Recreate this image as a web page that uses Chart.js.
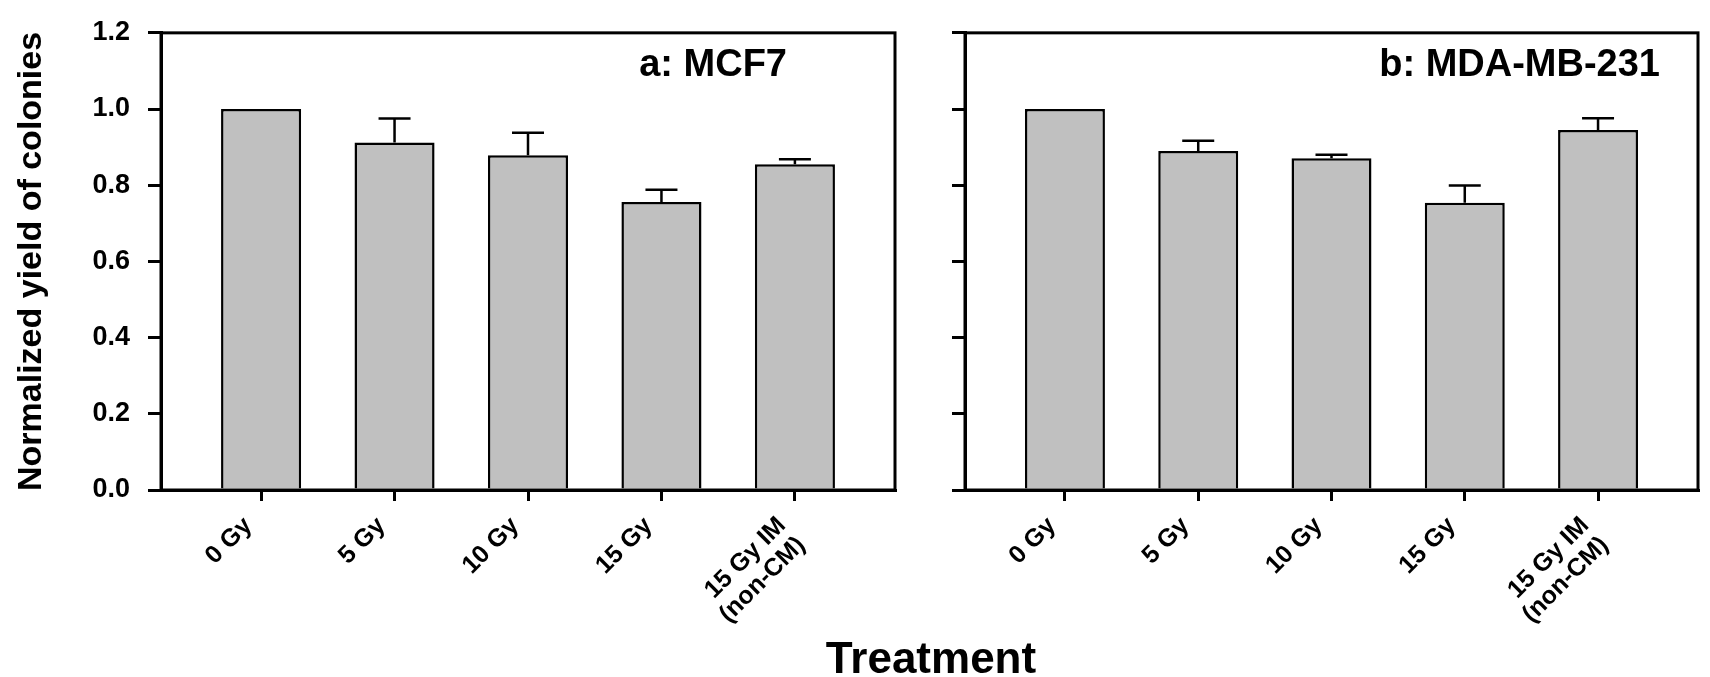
<!DOCTYPE html>
<html>
<head>
<meta charset="utf-8">
<script src="https://cdn.jsdelivr.net/npm/chart.js@4.4.1/dist/chart.umd.min.js"></script>
<style>
  body { margin: 0; background: #fff; overflow: hidden; }
  #wrap { position: relative; width: 1710px; height: 677px; }
  #wrap canvas { position: absolute; top: 0; }
  #xTitle {
    position: absolute; left: 731px; width: 400px; top: 633px;
    text-align: center; line-height: 1;
    font: bold 44px "Liberation Sans", Arial, sans-serif; color: #000;
  }
</style>
</head>
<body>
<div id="wrap">
  <canvas id="chartA" width="925" height="677" style="left:0"></canvas>
  <canvas id="chartB" width="785" height="677" style="left:925px"></canvas>
  <div id="xTitle">Treatment</div>
</div>
<script>
// treatments on the x axis
const treatments = ["0 Gy", "5 Gy", "10 Gy", "15 Gy", ["15 Gy IM", "(non-CM)"]];
const yTicks = [0, 0.2, 0.4, 0.6, 0.8, 1.0, 1.2];

// a: MCF7
const mcf7Yield = [1.0, 0.912, 0.879, 0.756, 0.855];
const mcf7Err = [0, 0.063, 0.059, 0.032, 0.013];

// b: MDA-MB-231
const mdaYield = [1.0, 0.890, 0.871, 0.754, 0.945];
const mdaErr = [0, 0.027, 0.009, 0.045, 0.031];

const FONT = "'Liberation Sans', Arial, sans-serif";

// upper error bars only, like the original figure
const errorBars = {
  id: "errorBars",
  afterDatasetsDraw(chart, args, opts) {
    const { ctx, scales: { x, y } } = chart;
    ctx.save();
    ctx.strokeStyle = "#000";
    ctx.lineWidth = 2.5;
    opts.errors.forEach((e, i) => {
      if (!e) return;
      const px = x.getPixelForValue(i);
      const yTop = y.getPixelForValue(opts.values[i]);
      const yEnd = y.getPixelForValue(opts.values[i] + e);
      ctx.beginPath();
      ctx.moveTo(px, yTop);
      ctx.lineTo(px, yEnd);
      ctx.moveTo(px - 16, yEnd);
      ctx.lineTo(px + 16, yEnd);
      ctx.stroke();
    });
    ctx.restore();
  }
};

// box around the plot area + panel label
const frame = {
  id: "frame",
  afterDraw(chart, args, opts) {
    const { ctx, chartArea: a } = chart;
    ctx.save();
    ctx.strokeStyle = "#000";
    ctx.lineWidth = 3;
    ctx.strokeRect(a.left, a.top, a.right - a.left, a.bottom - a.top);
    ctx.fillStyle = "#000";
    ctx.font = "bold 38px " + FONT;
    ctx.textAlign = "right";
    ctx.textBaseline = "alphabetic";
    ctx.fillText(opts.label, a.right - opts.inset, a.top + 43);
    ctx.restore();
  }
};

function makeChart(id, values, errors, cfg) {
  return new Chart(document.getElementById(id), {
    type: "bar",
    data: {
      datasets: [{
        data: values.map((v, i) => ({ x: i, y: v })),
        backgroundColor: "#c0c0c0",
        borderColor: "#000",
        borderWidth: 2.5,
        barPercentage: 0.6,
        categoryPercentage: 1
      }]
    },
    options: {
      responsive: false,
      animation: false,
      layout: { padding: { top: 15, right: cfg.padRight, left: 0, bottom: 0 } },
      plugins: {
        legend: { display: false },
        tooltip: { enabled: false },
        errorBars: { values, errors },
        frame: { label: cfg.label, inset: cfg.inset }
      },
      scales: {
        x: {
          type: "linear",
          offset: false,
          min: -0.75,
          max: 4.75,
          afterBuildTicks: (s) => { s.ticks = treatments.map((t, i) => ({ value: i })); },
          afterFit: (s) => { s.height = 187; },
          ticks: {
            callback: (v) => treatments[v],
            minRotation: 45,
            maxRotation: 45,
            autoSkip: false,
            padding: 11,
            labelOffset: -13,
            color: "#000",
            font: { family: FONT, size: 25, weight: "bold", lineHeight: 1.1 }
          },
          grid: { offset: false, drawOnChartArea: false, tickLength: 11, color: "#000", lineWidth: 3 },
          border: { color: "#000", width: 3 }
        },
        y: {
          min: 0,
          max: 1.2,
          afterBuildTicks: (s) => { s.ticks = yTicks.map((v) => ({ value: v })); },
          afterFit: (s) => { s.width = cfg.yWidth; },
          ticks: {
            callback: cfg.showY ? (v) => v.toFixed(1) : () => "",
            padding: 18,
            color: "#000",
            font: { family: FONT, size: 27, weight: "bold", lineHeight: 1.1 }
          },
          grid: { drawOnChartArea: false, tickLength: 13, color: "#000", lineWidth: 3 },
          border: { color: "#000", width: 3 },
          title: {
            display: cfg.showY,
            text: "Normalized yield of colonies",
            color: "#000",
            padding: { top: 11, bottom: 0 },
            font: { family: FONT, size: 34, weight: "bold" }
          }
        }
      }
    },
    plugins: [errorBars, frame]
  });
}

makeChart("chartA", mcf7Yield, mcf7Err, { label: "a: MCF7", inset: 108, padRight: 30, yWidth: 161, showY: true });
makeChart("chartB", mdaYield, mdaErr, { label: "b: MDA-MB-231", inset: 38, padRight: 12, yWidth: 40, showY: false });
</script>
</body>
</html>
